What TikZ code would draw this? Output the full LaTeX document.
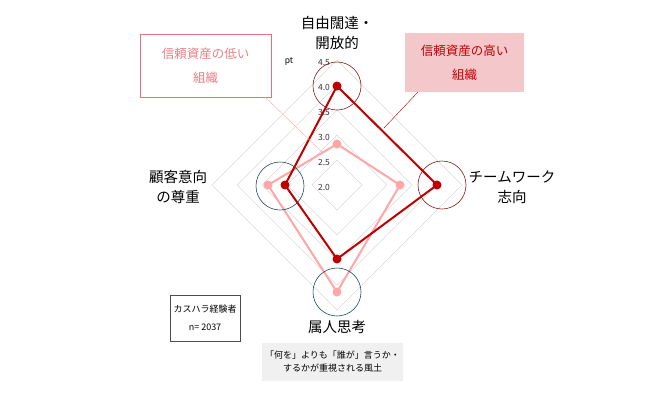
\documentclass[tikz,border=0pt]{standalone}
\usepackage{fontspec}
\setmainfont{Noto Sans CJK JP}
\usetikzlibrary{positioning}
\definecolor{darkred}{HTML}{C00000}
\definecolor{lightred}{HTML}{FFA7A7}
\definecolor{circred}{HTML}{8B1A1A}
\definecolor{circteal}{HTML}{1F4E5A}
\definecolor{boxpink}{HTML}{F4C7CA}
\definecolor{boxline}{HTML}{E8707A}
\begin{document}
\begin{tikzpicture}[x=1pt,y=-1pt,
    axislab/.style={font=\fontsize{14.5}{20}\selectfont, align=center},
    ticklab/.style={font=\fontsize{8.5}{9}\selectfont, text=black!80},
    ring/.style={draw, semithick, circle, minimum size=48pt, inner sep=0pt},
    hidot/.style={circle, fill=darkred, inner sep=0pt, minimum size=9pt},
    lodot/.style={circle, fill=lightred, inner sep=0pt, minimum size=9pt}]
    \useasboundingbox (0,0) rectangle (672,400);

    % grid
    \foreach \r in {25,50,...,125}
      \draw[black!15] (337,185-\r) -- (337+\r,185) -- (337,185+\r) -- (337-\r,185) -- cycle;
    \foreach \v/\y in {4.5/63,4.0/87,3.5/112,3.0/137,2.5/162,2.0/187}
      \node[ticklab] at (324,\y) {\v};
    \node[ticklab, text=black] (unit) at (289,62) {pt};

    % low-trust organisation
    \coordinate (lt) at (337,144);
    \coordinate (lr) at (400,185);
    \coordinate (lb) at (337,292);
    \coordinate (ll) at (268,185);
    \draw[lightred, line width=2pt] (lt) -- (lr) -- (lb) -- (ll) -- cycle;
    \foreach \p in {lt,lr,lb,ll} \node[lodot] at (\p) {};

    % high-trust organisation
    \coordinate (ht) at (337,86);
    \coordinate (hr) at (437,185);
    \coordinate (hb) at (337,259);
    \coordinate (hl) at (285,185);
    \draw[darkred, line width=2pt] (ht) -- (hr) -- (hb) -- (hl) -- cycle;
    \foreach \p in {ht,hr,hb,hl} \node[hidot] at (\p) {};

    % highlight rings
    \node[ring, circred] (rtop) at (337,86) {};
    \node[ring, circred] (rright) at (442,185) {};
    \node[ring, circteal] (rleft) at (280,186) {};
    \node[ring, circteal] (rbot) at (337,292) {};

    % axis labels
    \node[axislab] (free) at (337,33) {自由闊達・\\開放的};
    \node[axislab] (team) at (512,187) {チームワーク\\志向};
    \node[axislab] (cust) at (178,187) {顧客意向\\の尊重};
    \node[axislab] (zoku) at (337,327) {属人思考};

    % legend boxes
    \node[draw=boxline, fill=white, text=boxline!90, align=center, minimum width=131pt,
          minimum height=63pt, font=\fontsize{12.5}{24}\selectfont] (low) at (205.5,65.5) {信頼資産の低い\\組織};
    \node[fill=boxpink, text=darkred, align=center, minimum width=119pt,
          minimum height=59pt, font=\fontsize{12.5}{24}\selectfont] (high) at (464.5,62.5) {信頼資産の高い\\組織};
    \draw[lightred, thin] (265,97) -- (322,152);
    \draw[darkred, thin] (418,92) -- (384,128);

    % notes
    \node[draw=black!70, align=center, minimum width=70pt, minimum height=46pt,
          font=\fontsize{9}{18}\selectfont] (sample) at (205,318) {カスハラ経験者\\n= 2037};
    \node[fill=black!6, align=center, minimum width=135pt, minimum height=38pt,
          font=\fontsize{9}{13}\selectfont] (note) at (332.5,362) {「何を」よりも「誰が」言うか・\\するかが重視される風土};
\end{tikzpicture}
\end{document}
